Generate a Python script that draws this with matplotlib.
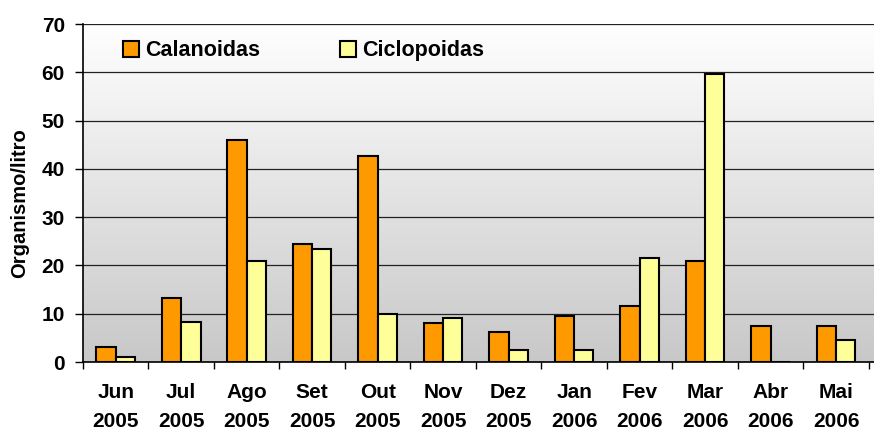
import numpy as np
import matplotlib
matplotlib.use('Agg')
import matplotlib.pyplot as plt
from matplotlib.colors import LinearSegmentedColormap

plt.rcParams['font.family'] = 'Liberation Sans'
plt.rcParams['font.weight'] = 'bold'

# --- dados ---
meses = ['Jun', 'Jul', 'Ago', 'Set', 'Out', 'Nov', 'Dez', 'Jan', 'Fev', 'Mar', 'Abr', 'Mai']
anos = ['2005', '2005', '2005', '2005', '2005', '2005', '2005', '2006', '2006', '2006', '2006', '2006']
calanoidas = [3.2, 13.2, 46.0, 24.5, 42.7, 8.0, 6.2, 9.5, 11.5, 21.0, 7.4, 7.4]
ciclopoidas = [1.1, 8.3, 21.0, 23.5, 9.9, 9.1, 2.5, 2.5, 21.5, 59.6, 0.0, 4.6]

rotulos = [m + '\n' + a for m, a in zip(meses, anos)]
x = np.arange(len(meses))

fig = plt.figure(figsize=(8.74, 4.32), dpi=100)
ax = fig.add_axes([83 / 874, 70 / 432, 791 / 874, 338 / 432])

# fundo em gradiente (branco em cima, cinza em baixo)
cmap = LinearSegmentedColormap.from_list('fundo', ['#c8c8c8', '#ffffff'])
grad = np.linspace(0, 1, 256).reshape(-1, 1)
ax.imshow(grad, cmap=cmap, aspect='auto', extent=[0, 1, 0, 1],
          transform=ax.transAxes, origin='lower', zorder=0)

larg = 0.295
ax.bar(x - larg / 2, calanoidas, larg, color='#ff9900', edgecolor='black',
       linewidth=1.5, label='Calanoidas', zorder=3)
ax.bar(x + larg / 2, ciclopoidas, larg, color='#ffff99', edgecolor='black',
       linewidth=1.5, label='Ciclopoidas', zorder=3)

ax.set_xlim(-0.5, len(meses) - 0.5 + 0.08)
ax.set_ylim(0, 70)
ax.set_yticks(range(0, 71, 10))
ax.yaxis.grid(True, color='#222222', linewidth=0.9, zorder=1)
ax.set_axisbelow(True)

# ticks nas divisoes, rotulos nos centros
ax.set_xticks(np.arange(-0.5, len(meses), 1))
ax.set_xticklabels([])
ax.set_xticks(x, minor=True)
ax.set_xticklabels(rotulos, minor=True, fontsize=15, fontweight='bold', linespacing=1.7)
ax.tick_params(axis='x', which='minor', length=0, pad=15)
ax.tick_params(axis='x', which='major', length=5, width=1, direction='out')
ax.tick_params(axis='y', length=6, width=1, pad=7, labelsize=15)
for t in ax.get_yticklabels():
    t.set_fontweight('bold')

for s in ['top', 'right']:
    ax.spines[s].set_visible(False)
ax.spines['left'].set_linewidth(1.2)
ax.spines['bottom'].set_linewidth(1.2)

fig.text(20 / 874, 0.53, 'Organismo/litro', rotation=90, ha='center', va='center',
         fontsize=14.5, fontweight='bold')

ax.legend(loc='upper left', bbox_to_anchor=(0.05, 0.952), ncol=2, frameon=False,
          handlelength=0.75, handleheight=0.75, handletextpad=0.3,
          columnspacing=3.7, borderpad=0, borderaxespad=0,
          prop={'weight': 'bold', 'size': 15.5})

fig.savefig('out.png', dpi=100)
